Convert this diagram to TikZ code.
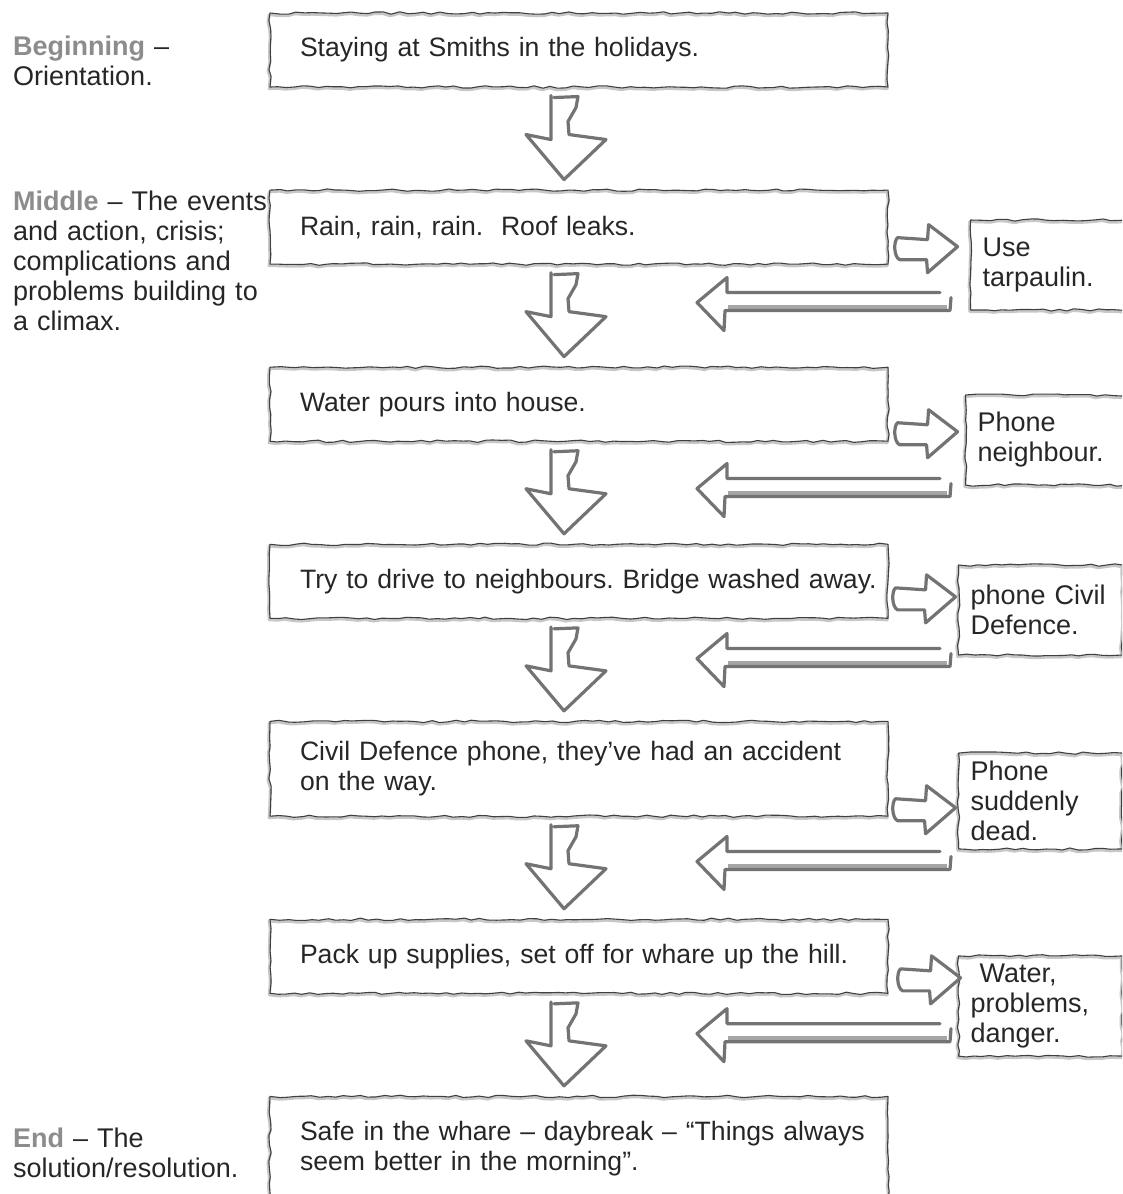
\documentclass[tikz,border=0pt]{standalone}
\usepackage{fontspec}
\setmainfont{Liberation Sans}
\usetikzlibrary{positioning,calc,decorations.pathmorphing}

\newcommand{\stage}[1]{\textbf{\color{black!45}#1}}
\frenchspacing

\begin{document}
\begin{tikzpicture}[x=1pt, y=-1pt, node distance=102pt,
  rough/.style={draw=black!75, line width=1.1pt, line join=round, decorate,
    decoration={random steps, segment length=8pt, amplitude=1.2pt},
    preaction={draw=black!22, line width=3pt, transform canvas={shift={(-0.8pt,-1.6pt)}}}},
  eventbox/.style={rough, text width=610pt, inner xsep=4pt, inner ysep=20pt, minimum height=74pt,
    align=left, text=black!85, font=\fontsize{26.6}{30}\selectfont,
    execute at begin node={\leftskip=26pt}},
  sidebox/.style={rough, anchor=west, text width=140pt, inner xsep=12pt, inner ysep=8pt,
    minimum height=90pt, align=left, text=black!85, font=\fontsize{27}{30}\selectfont},
  stagelabel/.style={anchor=base west, text width=262pt, inner sep=0pt, align=left,
    text=black!85, font=\fontsize{27}{30}\selectfont},
  hand/.style={draw=black!55, line width=3.2pt, line join=round, line cap=round},
  downarr/.pic={\draw[hand] (-10,-41) -- (14,-42) -- (12,-31) -- (4,-17) -- (5,-4) -- (42,1)
      -- (0,41) -- (-38,-4) -- (-13,1) -- (-13,-43);},
  rightarr/.pic={\draw[hand] (0,-11) -- (30,-9) -- (31,-24) -- (60,-2) -- (30,24) -- (29,11)
      -- (2,11) .. controls (-4,8) and (-4,-8) .. (0,-11) -- cycle;},
  leftarr/.pic={\draw[black!35, line width=5pt] (-222,6) -- (-3,6);
    \draw[hand] (-10,-9) -- (-223,-9) -- (-223,-24) -- (-253,1) -- (-226,29) -- (-225,9)
      -- (0,9) -- (1,-4);}]
\path[use as bounding box, clip] (0,0) rectangle (1122,1194);
\pgfmathsetseed{7}

% story labels
\node[stagelabel] (l1) at (13,55) {\stage{Beginning} –\\Orientation.};
\node[stagelabel] (l2) at (13,210) {\stage{Middle} – The events\\and action, crisis;\\complications and\\problems building to\\a climax.};
\node[stagelabel] (l3) at (13,1147) {\stage{End} – The\\solution/resolution.};

% main events
\node[eventbox] (b1) at (579,50) {Staying at Smiths in the holidays.};
\node[eventbox, below=of b1] (b2) {Rain, rain, rain.~ Roof leaks.};
\node[eventbox, below=of b2] (b3) {Water pours into house.};
\node[eventbox, below=of b3] (b4) {Try to drive to neighbours. Bridge washed away.};
\node[eventbox, below=of b4] (b5) {Civil Defence phone, they’ve had an accident\\on the way.};
\node[eventbox, below=of b5] (b6) {Pack up supplies, set off for whare up the hill.};
\node[eventbox, below=of b6, minimum height=104pt] (b7) {Safe in the whare – daybreak – “Things always\\seem better in the morning”.};

% attempts
\node[sidebox] (s1) at (970,265) {Use\\tarpaulin.};
\node[sidebox] (s2) at (965,440) {Phone\\neighbour.};
\node[sidebox] (s3) at (958,610) {phone Civil\\Defence.};
\node[sidebox] (s4) at (958,801) {Phone\\suddenly\\dead.};
\node[sidebox] (s5) at (958,1006) {\hspace*{9pt}Water,\\problems,\\danger.};

% arrows
\foreach \a/\b in {b1/b2, b2/b3, b3/b4, b4/b5, b5/b6, b6/b7}
  \pic at ($(\a.south)!0.5!(\b.north)+(-15,0)$) {downarr};
\foreach \b/\dx/\dy in {b2/9/-16, b3/9/-8, b4/7/-20, b5/7/-7, b6/12/-14}
  \pic at ([shift={(\dx,\dy)}]\b.south east) {rightarr};
\foreach \s/\dx/\dy in {s1/-20/-9, s2/-15/2, s3/-8/2, s4/-8/11, s5/-8/-24}
  \pic at ([shift={(\dx,\dy)}]\s.south west) {leftarr};
\end{tikzpicture}
\end{document}
